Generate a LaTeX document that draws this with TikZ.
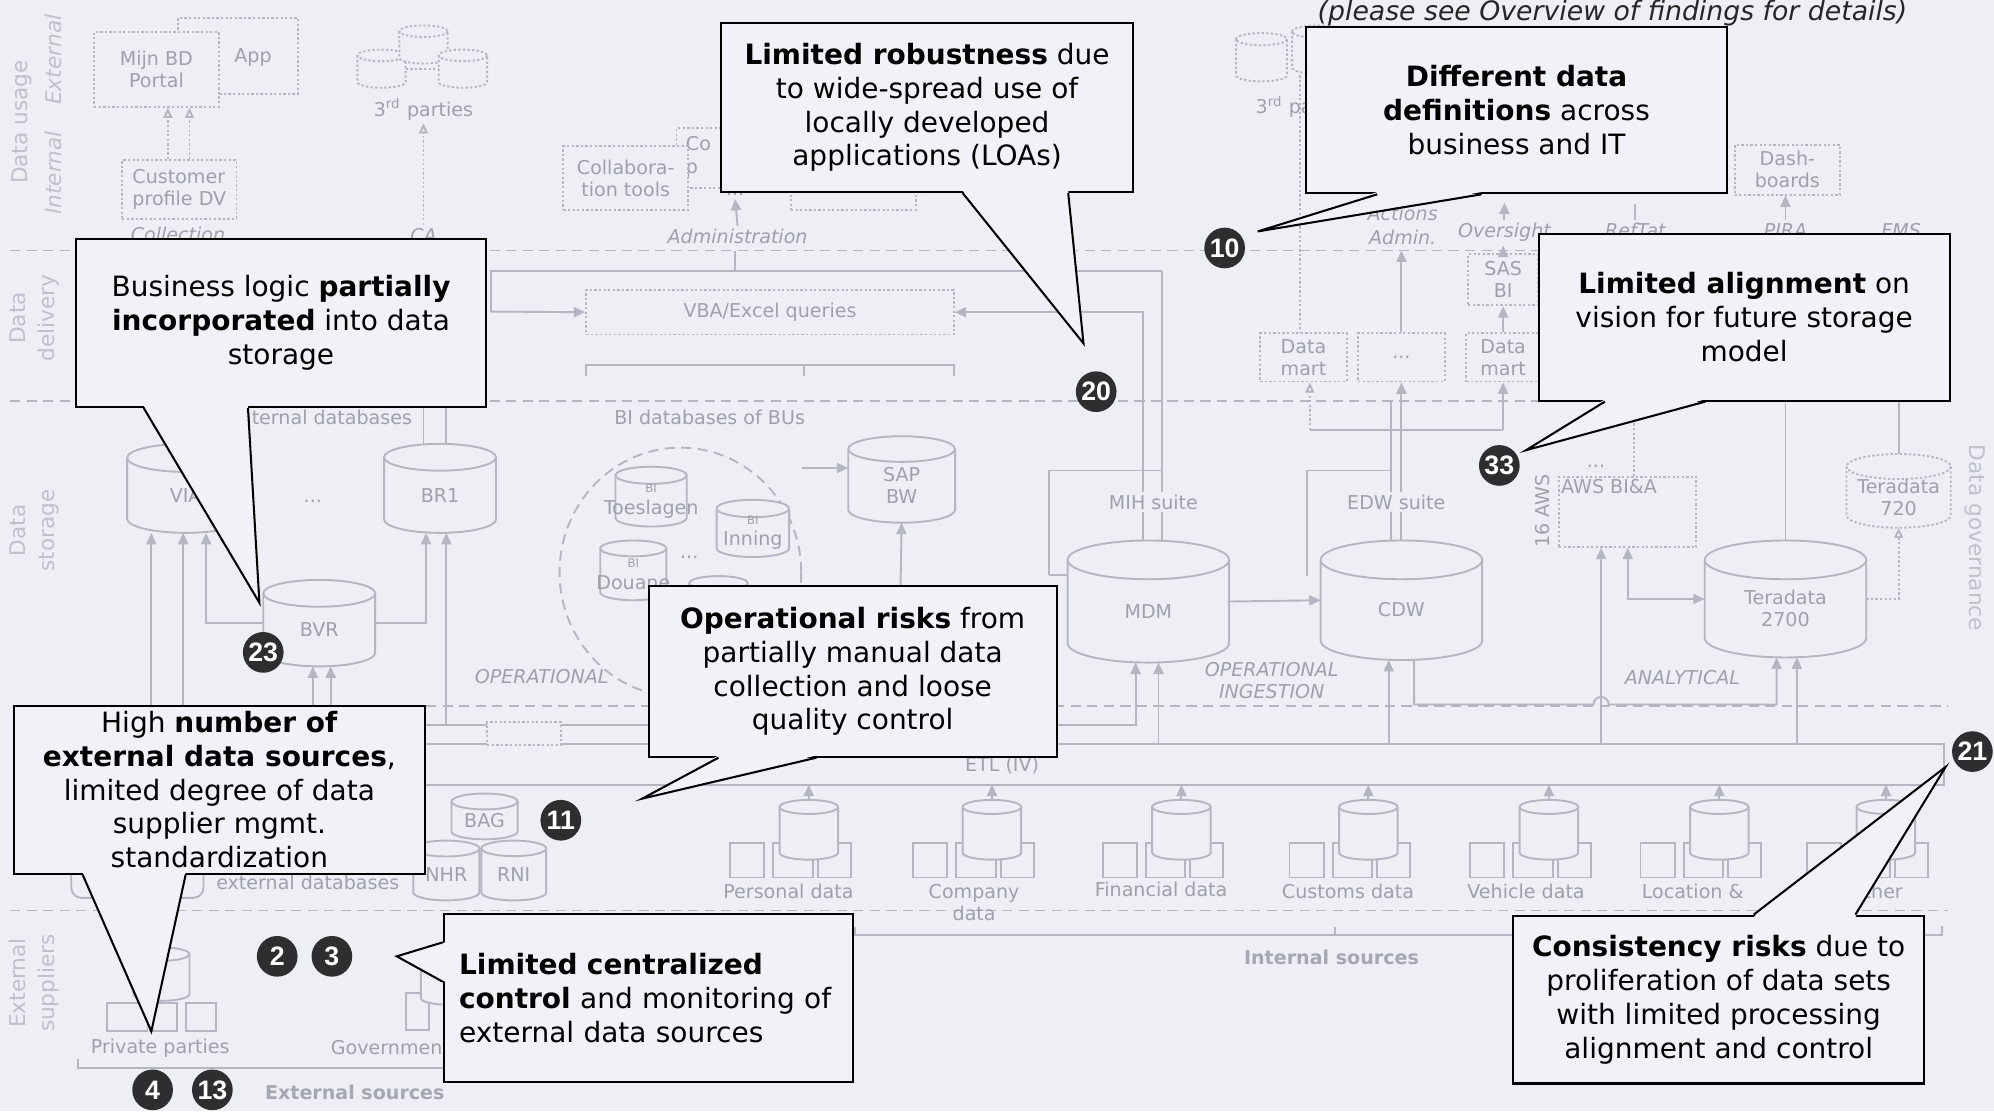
\documentclass[tikz,border=0pt]{standalone}
\usepackage{fontspec}
\setmainfont{DejaVu Sans}
\newfontfamily\badgefam{Liberation Sans}
\usetikzlibrary{arrows.meta,calc,shapes.geometric}
\definecolor{bgc}{RGB}{237,239,245}
\definecolor{cfill}{RGB}{241,242,247}
\definecolor{gline}{RGB}{180,183,193}
\definecolor{gtext}{RGB}{158,161,171}
\definecolor{ltext}{RGB}{190,193,204}
\definecolor{stext}{RGB}{165,168,178}
\definecolor{badgec}{RGB}{46,46,48}
\newcommand\myg{\fontsize{7.5}{8.6}\selectfont}
\newcommand\mys{\fontsize{4.6}{5.4}\selectfont}
\newcommand\myl{\fontsize{8.5}{11.5}\selectfont}
\newcommand\myc{\fontsize{11}{13.3}\selectfont}
\newcommand\myh{\fontsize{10.5}{12}\selectfont}
\newcommand\myb{\badgefam\bfseries\fontsize{10.5}{10.5}\selectfont}
% cylinder: name, cx, top y, width, height, label, shape style
\newcommand\cyl[7]{%
 \pgfmathsetmacro\cylry{0.12*#4}%
 \pgfmathsetmacro\cylbh{#5-2*\cylry}%
 \node[inner sep=0pt,outer sep=0pt,minimum width=#4*0.5pt,minimum height=\cylbh*0.5pt] (#1) at (#2,#3+\cylry+\cylbh/2) {};%
 \coordinate (#1-t) at (#2,#3);%
 \coordinate (#1-b) at (#2,#3+#5);%
 \filldraw[gl,fill=bgc,#7] (#1.north west) -- (#1.south west) arc[start angle=180,end angle=360,x radius=#4*0.25pt,y radius=\cylry*0.5pt] -- (#1.north east) arc[start angle=0,end angle=180,x radius=#4*0.25pt,y radius=\cylry*0.5pt] -- cycle;%
 \draw[gl,#7] (#1.north east) arc[start angle=0,end angle=-180,x radius=#4*0.25pt,y radius=\cylry*0.5pt];%
 \node[gtxt] at ([yshift=-\cylry*0.25pt]#1.center) {#6};%
}
% internal source group: name, cx, label, label y, label x
\newcommand\srcgroup[5]{%
 \node[sbox,minimum width=13.5pt,minimum height=13.5pt] (#1l) at (#2-48.5,676.5) {};%
 \node[sbox,minimum width=15.5pt,minimum height=13.5pt] (#1m) at (#2-12.5,676.5) {};%
 \node[sbox,minimum width=13pt,minimum height=13.5pt] (#1r) at (#2+20,676.5) {};%
 \cyl{#1}{#2}{629}{46}{47}{}{}%
 \draw[garr] (#1-t) -- (#1-t |- etlb);%
 \node[gtxt] (#1txt) at (#5,#4) {#3};%
}
\newcommand\tailS[4]{%
 \fill[cfill] ($(#1.south -| #2,0)+(0,-1.8)$) -- (#4) -- ($(#1.south -| #3,0)+(0,-1.8)$) -- cycle;%
 \draw[cline] (#1.south -| #2,0) -- (#4) -- (#1.south -| #3,0);}
\newcommand\tailN[4]{%
 \fill[cfill] ($(#1.north -| #2,0)+(0,1.8)$) -- (#4) -- ($(#1.north -| #3,0)+(0,1.8)$) -- cycle;%
 \draw[cline] (#1.north -| #2,0) -- (#4) -- (#1.north -| #3,0);}
\newcommand\tailW[4]{%
 \fill[cfill] ($(#1.west |- 0,#2)+(1.8,0)$) -- (#4) -- ($(#1.west |- 0,#3)+(1.8,0)$) -- cycle;%
 \draw[cline] (#1.west |- 0,#2) -- (#4) -- (#1.west |- 0,#3);}

\begin{document}
\begin{tikzpicture}[x=0.5pt,y=-0.5pt,
 gl/.style={draw=gline,line width=0.75pt},
 gdash/.style={gl,dash pattern=on 4pt off 2.5pt},
 gdot/.style={gl,dash pattern=on 0.9pt off 0.9pt},
 garr/.style={gl,-{Triangle[length=4.5pt,width=4pt]}},
 gtxt/.style={font=\myg,text=gtext,inner sep=1pt,align=center},
 gital/.style={font=\myg\itshape,text=gtext,inner sep=1pt,align=center},
 gbox/.style={gdot,fill=bgc,inner sep=1pt,align=center,font=\myg,text=gtext},
 sbox/.style={gl,fill=bgc,inner sep=0pt},
 layerbase/.style={font=\myl,text=ltext,align=center,inner sep=0pt},
 stitle/.style={font=\myg\bfseries,text=stext},
 badge/.style={circle,fill=badgec,text=white,font=\myb,minimum size=16pt,inner sep=0pt},
 cbox/.style={draw=black,line width=0.8pt,fill=cfill,font=\myc,align=center,inner sep=0pt},
 cline/.style={draw=black,line width=0.8pt,line join=miter},
]
\useasboundingbox (0,0) rectangle (1568,874);
\clip (0,0) rectangle (1568,874);
\fill[bgc] (0,0) rectangle (1568,874);
\coordinate (etlt) at (0,585);
\coordinate (etlb) at (0,617);

% layer labels
\node[layerbase,rotate=90] (lusage) at (17,96) {Data usage};
\node[layerbase,font=\myl\itshape,rotate=90] (lext) at (42,47) {External};
\node[layerbase,font=\myl\itshape,rotate=90] (lint) at (42,136) {Internal};
\node[layerbase,rotate=90] (ldeliv) at (27,250) {Data\\delivery};
\node[layerbase,rotate=90] (lstor) at (27,417) {Data\\storage};
\node[layerbase,rotate=90] (lsupp) at (27,773) {External\\suppliers};
\node[layerbase,rotate=-90] (lgov) at (1553,423) {Data governance};

% separators
\draw[gdash] (8,197) -- (1532,197);
\draw[gdash] (8,315) -- (1532,315);
\draw[gdash] (335,555) -- (1532,555);
\draw[gdash] (8,716) -- (1532,716);

% ---------- data usage ----------
\node[gbox,minimum width=47pt,minimum height=30pt] (app) at (187,44) {};
\node[gtxt] (apptxt) at (199,45) {App};
\node[gbox,minimum width=49pt,minimum height=29.5pt] (portal) at (123,54.5) {Mijn BD\\Portal};
\node[gbox,minimum width=45pt,minimum height=23pt,align=left] (cpdv) at (141,149) {Customer\\profile DV};
\draw[gdot,-{Triangle[open,length=4pt,width=3.5pt]}] (132,0 |- cpdv.north) -- (132,0 |- portal.south);
\draw[gdot,-{Triangle[open,length=4pt,width=3.5pt]}] (149,0 |- cpdv.north) -- (149,0 |- portal.south);
\node[gital] (lcoll) at (140,184) {Collection};

\cyl{tpA}{300}{39}{38}{30}{}{gdot}
\cyl{tpB}{333}{20}{38}{30}{}{gdot}
\cyl{tpC}{364}{39}{38}{30}{}{gdot}
\draw[gdot] (tpA.east) -- (tpC.west);
\node[gtxt] (tptxt) at (333,86) {3\textsuperscript{rd} parties};
\node[gital] (lca) at (333,185) {CA};
\draw[gdot,-{Triangle[open,length=4pt,width=3.5pt]}] (lca.north) -- (tptxt.south);

\node[gbox,minimum width=34pt,minimum height=23.5pt] (copl) at (566,124.5) {};
\node[gtxt,anchor=west] (cotxt) at (537,113) {Co};
\node[gtxt,anchor=west] (ptxt) at (537,134) {p};
\node[gbox,minimum width=49pt,minimum height=25pt] (collab) at (492,140) {Collabora-\\tion tools};
\node[gtxt] (dots1) at (578,153) {...};
\node[gital] (ladm) at (580,186) {Administration};
\draw[garr] (ladm.north) -- (dots1.south);
\node[gbox,minimum width=49pt,minimum height=12.5pt] (hidbox) at (671,152.5) {};

\cyl{tpD}{992}{26}{40}{38}{}{gdot}
\cyl{tpE}{1036}{20}{40}{38}{}{gdot}
\node[gtxt,anchor=west] (tp2txt) at (985,84) {3\textsuperscript{rd} parties};
\node[gital] (lact) at (1103,168) {Actions};
\node[gital] (ladmin) at (1103,187) {Admin.};
\node[gital] (lover) at (1183,183) {Oversight};
\node[gital] (lref) at (1286,181) {RefTat};
\node[gital] (lpira) at (1404,181) {PIRA};
\node[gital] (lfms) at (1495,181) {FMS};
\node[gbox,minimum width=41.5pt,minimum height=19.5pt] (dash) at (1405.5,133.5) {Dash-\\boards};
\draw[garr] (lpira.north) -- (lpira.north |- dash.south);
\draw[garr] (lover.north) -- ++(0,-14);
\draw[gl] (lref.north) -- ++(0,-12);

% ---------- data delivery ----------
\node[gbox,minimum width=144.5pt,minimum height=17.5pt] (vba) at (605.5,245.5) {VBA/Excel queries};
\draw[gl] (461,296) -- (461,287) -- (750,287) -- (750,296);
\draw[gl] (632,287) -- (632,296);
\draw[gl] (578,197) -- (578,213);
\draw[gl] (386,245) -- (386,213) -- (914,213);
\draw[garr] (386,245) -- (vba.west);

\node[gbox,minimum width=34pt,minimum height=19pt] (dm1) at (1025,281) {Data\\mart};
\node[gbox,minimum width=34pt,minimum height=19pt] (dmx) at (1102,281) {...};
\node[gbox,minimum width=29pt,minimum height=19pt] (dm2) at (1182,281) {Data\\mart};
\node[gbox,minimum width=27.5pt,minimum height=20pt] (sas) at (1182,220) {SAS\\BI};
\draw[gdot] (tpD.south -| 1022,0) -- (1022,0 |- dm1.north);
\draw[garr] (dmx.north) -- (dmx.north |- 0,197);
\draw[garr] (dm2.north) -- (sas.south);
\draw[garr] (sas.north) -- ++(0,-6);
\draw[gl] (1030,338) -- (1182,338);
\draw[garr] (1182,338) -- (dm2.south);
\draw[gdot,-{Triangle[open,length=4pt,width=3.5pt]}] (1030,338) -- (1030,0 |- dm1.south);

% ---------- data storage ----------
\node[gtxt] (lintdb) at (254,328) {Internal databases};
\node[gtxt] (lbidb) at (558,328) {BI databases of BUs};

% connectors (drawn before cylinders)
\draw[gl] (333,315) -- (333,352);
\draw[gl] (351,315) -- (351,352);
\draw[gl] (825,452) -- (825,370) -- (914,370);
\draw[gl] (1028,453) -- (1028,370) -- (1094,370);
\draw[gl] (1094,315) -- (1094,440);
\draw[garr] (899,440) |- (vba.east);
\draw[gl] (914,213) -- (914,440);
\draw[garr] (1102,440) -- (dmx.south);
\draw[gl] (1404,315) -- (1404,440);
\draw[gl] (1493,315) -- (1493,360);
\draw[gdot] (1285,315) -- (1285,380);
\draw[gl] (840,452) -- (825,452);

\node[gdash,ellipse,minimum width=95pt,minimum height=98pt,inner sep=0pt] (bireg) at (535,450) {};
\cyl{bit}{512}{367}{56}{47}{\mys BI\\Toeslagen}{}
\cyl{bii}{592}{393}{57}{45}{\mys BI\\Inning}{}
\cyl{bid}{498}{425}{52}{47}{\mys BI\\Douane}{}
\cyl{bih}{565}{453}{46}{45}{}{}
\node[gtxt] (dots2) at (542,438) {...};

\cyl{via}{146}{349}{92}{70}{VIA}{}
\cyl{br1}{346}{349}{88}{70}{BR1}{}
\node[gtxt] (dots3) at (246,394) {...};
\cyl{bvr}{251}{456}{88}{68}{BVR}{}
\cyl{sap}{709}{343}{84}{68}{SAP\\BW}{}
\cyl{mdm}{903}{425}{127}{96}{MDM}{}
\cyl{cdw}{1102}{425}{127}{94}{CDW}{}
\cyl{tdb}{1404}{425}{127}{92}{Teradata\\2700}{}
\cyl{tds}{1493}{357}{82}{58}{Teradata\\720}{gdot}
\node[gbox,minimum width=54pt,minimum height=27.5pt] (aws) at (1280,402.5) {};
\node[gtxt,anchor=north west] (awstxt) at (aws.north west) {AWS BI\&A};
\node[gtxt,rotate=90] (aws16) at (1213,402) {16 AWS};
\node[gtxt] (dots4) at (1255,367) {...};
\node[gtxt,fill=bgc] (lmih) at (907,395) {MIH suite};
\node[gtxt,fill=bgc] (ledw) at (1098,395) {EDW suite};

% storage arrows
\draw[garr] (bireg.east |- 0,368) -- (sap.west |- 0,368);
\draw[garr] (708,470) -- (sap-b);
\draw[garr] (mdm.east) -- (cdw.west);
\draw[gl,{Triangle[length=4.5pt,width=4pt]}-{Triangle[length=4.5pt,width=4pt]}] (1280,0 |- aws.south) |- (tdb.west);
\draw[gdot,-{Triangle[open,length=4pt,width=3.5pt]}] (tdb.east) -| (tds-b);
\draw[garr] (1259,0 |- etlt) -- (1259,0 |- aws.south);
\draw[garr] (1092,0 |- etlt) -- (1092,0 |- cdw-b);
\draw[garr] (1112,0 |- cdw-b) -- (1112,554) -- (1253,554) arc[start angle=180,end angle=0,radius=3pt] -- (1397,554) -- (1397,0 |- tdb-b);
\draw[garr] (1413,0 |- etlt) -- (1413,0 |- tdb-b);
\draw[garr] (911,0 |- etlt) -- (911,0 |- mdm-b);
\draw[garr] (333,570) -- (893,570) -- (893,0 |- mdm-b);
\draw[garr] (119,0 |- etlt) -- (119,0 |- via-b);
\draw[garr] (144,0 |- etlt) -- (144,0 |- via-b);
\draw[garr] (bvr.west) -| (162,0 |- via-b);
\draw[garr] (bvr.east) -| (335,0 |- br1-b);
\draw[garr] (351,570) -- (351,0 |- br1-b);
\draw[garr] (246,0 |- etlt) -- (246,0 |- bvr-b);
\draw[garr] (260,0 |- etlt) -- (260,0 |- bvr-b);

\node[gital] (lop) at (426,532) {OPERATIONAL};
\node[gital] (lopi) at (1000,535) {OPERATIONAL\\INGESTION};
\node[gital] (lana) at (1323,533) {ANALYTICAL};

% ETL band
\draw[gl] (300,585) -- (1529,585) -- (1529,617) -- (300,617);
\node[gbox,minimum width=29pt,minimum height=9pt] (etlbox) at (412,577) {};
\node[gtxt,fill=bgc] (letl) at (788,602) {ETL (IV)};

% ---------- internal sources ----------
\srcgroup{pers}{636}{Personal data}{701}{620}
\srcgroup{comp}{780}{Company\\data}{710}{766}
\srcgroup{fina}{929}{Financial data}{699}{913}
\srcgroup{cust}{1076}{Customs data}{701}{1060}
\srcgroup{vehi}{1218}{Vehicle data}{701}{1200}
\srcgroup{loca}{1352}{Location \&}{701}{1331}
\srcgroup{othr}{1483}{Other}{701}{1475}
\draw[gl] (672,729) -- (672,735) -- (1527,735) -- (1527,728);
\draw[gl] (1050,735) -- (1050,729);
\node[stitle] (lintsrc) at (1047,753) {Internal sources};

% ---------- external ----------
\cyl{bag}{381}{624}{52}{36}{BAG}{}
\cyl{nhr}{351}{661}{52}{47}{NHR}{}
\cyl{rni}{404}{661}{51}{47}{RNI}{}
\draw[gl,rounded corners=4pt] (56,676) -- (56,706) -- (160,706) -- (160,676);
\node[gtxt] (lextdb) at (242,694) {external databases};

\node[sbox,minimum width=16pt,minimum height=11pt] (pp1) at (100,800) {};
\node[sbox,minimum width=10.5pt,minimum height=11pt] (pp2) at (128.5,800) {};
\node[sbox,minimum width=12pt,minimum height=11pt] (pp3) at (158,800) {};
\cyl{ppc}{127}{745}{44}{42}{}{}
\node[sbox,minimum width=9pt,minimum height=14.5pt] (gv1) at (328,795.5) {};
\cyl{gvc}{352}{748}{42}{42}{}{}
\node[gtxt] (lpriv) at (126,824) {Private parties};
\node[gtxt] (lgov2) at (307,824) {Government};
\draw[gl] (61,833) -- (61,840) -- (440,840);
\node[stitle] (lextsrc) at (279,859) {External sources};

% heading (on top of the background diagram)
\node[font=\myh\itshape,text=black!85,anchor=base,inner sep=0pt] (note) at (1268,16) {(please see Overview of findings for details)};

% ---------- callouts ----------
\coordinate (tA) at (852,270);
\coordinate (tB) at (989,182);
\coordinate (tC) at (204,474);
\coordinate (tD) at (1200,354);
\coordinate (tE) at (505,628);
\coordinate (tF) at (119,811);
\coordinate (tG) at (312,752);
\coordinate (tH) at (1530,603);

\node[cbox,minimum width=162pt,minimum height=66.5pt] (cA) at (729,84.5) {\textbf{Limited robustness} due\\to wide-spread use of\\locally developed\\applications (LOAs)};
\tailS{cA}{757}{840}{tA}
\node[cbox,minimum width=165.5pt,minimum height=65.5pt] (cB) at (1192.5,86.5) {\textbf{Different data}\\\textbf{definitions} across\\business and IT};
\tailS{cB}{1083}{1165}{tB}
\node[cbox,minimum width=161pt,minimum height=66pt] (cC) at (221,254) {Business logic \textbf{partially}\\\textbf{incorporated} into data\\storage};
\tailS{cC}{113}{195}{tC}
\node[cbox,minimum width=161.5pt,minimum height=65.5pt] (cD) at (1371.5,249.5) {\textbf{Limited alignment} on\\vision for future storage\\model};
\tailS{cD}{1262}{1341}{tD}
\node[cbox,minimum width=160.5pt,minimum height=67pt] (cE) at (670.5,528) {\textbf{Operational risks} from\\partially manual data\\collection and loose\\quality control};
\tailS{cE}{565}{642}{tE}
\node[cbox,minimum width=161.5pt,minimum height=66pt] (cF) at (172.5,621) {High \textbf{number of}\\\textbf{external data sources},\\limited degree of data\\supplier mgmt.\\standardization};
\tailS{cF}{65}{146}{tF}
\node[cbox,minimum width=161pt,minimum height=66pt,align=left,text width=149pt,inner xsep=6pt] (cG) at (510,785) {\textbf{Limited centralized}\\\textbf{control} and monitoring of\\external data sources};
\tailW{cG}{741}{772}{tG}
\node[cbox,minimum width=161.5pt,minimum height=66pt] (cH) at (1351.5,786) {\textbf{Consistency risks} due to\\proliferation of data sets\\with limited processing\\alignment and control};
\tailN{cH}{1379}{1459}{tH}

% ---------- badges ----------
\node[badge] (b10) at (963,195) {10};
\node[badge] (b20) at (862,308) {20};
\node[badge] (b33) at (1179,366) {33};
\node[badge] (b23) at (207,513) {23};
\node[badge] (b11) at (441,645) {11};
\node[badge] (b21) at (1551,591) {21};
\node[badge] (b2) at (218,752) {2};
\node[badge] (b3) at (261,752) {3};
\node[badge] (b4) at (120,857) {4};
\node[badge] (b13) at (167,857) {13};
\end{tikzpicture}
\end{document}
